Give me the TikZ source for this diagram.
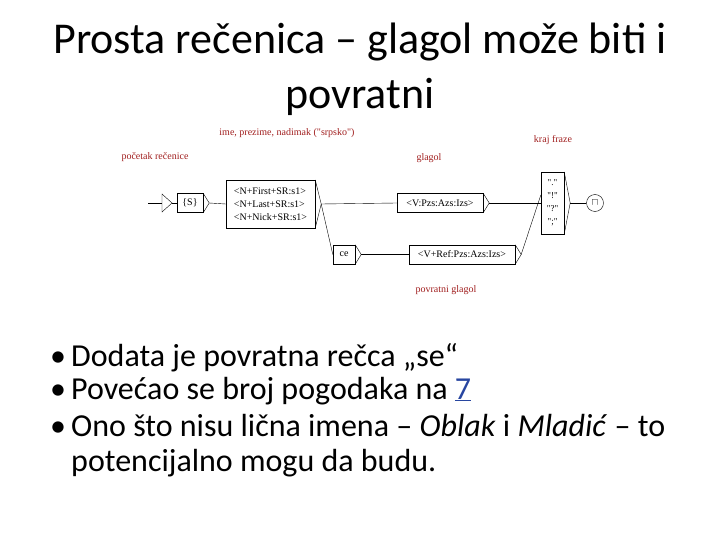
\documentclass[tikz,border=0pt]{standalone}
\usepackage{fontspec}
\setmainfont{Carlito}
\newfontfamily\graphfont{Liberation Serif}
\usetikzlibrary{positioning}
\definecolor{labred}{RGB}{160,30,30}
\definecolor{linkblue}{RGB}{40,70,160}
\tikzset{
    tbox/.style = {draw=black, thin, fill=white, font=\graphfont\fontsize{10}{13}\selectfont, inner sep=2pt, align=left, minimum height=19pt},
    tlabel/.style = {text=labred, font=\graphfont\fontsize{10}{12}\selectfont},
    bline/.style = {font=\fontsize{32}{36}\selectfont, anchor=base west, inner sep=0pt}
}
\newcommand{\boxtip}[1]{\draw[thin] (#1.north east) -- ([xshift=6pt]#1.east) -- (#1.south east);
    \coordinate (#1tip) at ([xshift=6pt]#1.east);}
\begin{document}
\begin{tikzpicture}[x=1pt,y=-1pt]
    \useasboundingbox (0,0) rectangle (720,540);

    % naslov
    \node[font=\fontsize{44}{48}\selectfont] (t1) at (360,42) {Prosta rečenica – glagol može biti i};
    \node[font=\fontsize{44}{48}\selectfont] (t2) at (360,97) {povratni};

    % graf
    \coordinate (start) at (148,203);
    \draw[thin] (162,194) -- (172,203) -- (162,212) -- cycle;
    \coordinate (init) at (162,203);
    \coordinate (initr) at (172,203);
    \node[tbox, minimum width=26pt] (s) at (190,203) {\{S\}};
    \boxtip{s}
    \node[tbox, minimum width=89pt, minimum height=48pt, inner sep=1pt] (names) at (270.5,204) {<N+First+SR:s1>\\<N+Last+SR:s1>\\<N+Nick+SR:s1>};
    \boxtip{names}
    \node[tbox, minimum width=86pt] (verb) at (440,203) {<V:Pzs:Azs:Izs>};
    \boxtip{verb}
    \node[tbox, minimum width=22pt] (ce) at (344,254.5) {ce};
    \boxtip{ce}
    \node[tbox, minimum width=106pt] (ref) at (462,254.5) {<V+Ref:Pzs:Azs:Izs>};
    \boxtip{ref}
    \node[tbox, minimum width=23pt, minimum height=62pt, align=center, inner sep=1pt, font=\graphfont\fontsize{9}{13}\selectfont] (punct) at (552.5,203) {"."\\"!"\\"?"\\";"};
    \boxtip{punct}
    \node[draw, circle, thin, minimum size=17pt, inner sep=0pt] (final) at (595,203) {$\sqcap$};

    \draw[thin] (start) -- (init);
    \draw[thin] (initr) -- (s.west);
    \draw[thin] (stip) -- (names.west);
    \draw[thin] (namestip) -- (verb.west);
    \draw[thin] (namestip) -- (ce.west);
    \draw[thin] (cetip) -- (ref.west);
    \draw[thin] (verbtip) -- (punct.west);
    \draw[thin] (reftip) -- ([yshift=8pt]punct.west);
    \draw[thin] (puncttip) -- (final.west);

    \node[tlabel] (lname) at (287,133) {ime, prezime, nadimak ("srpsko")};
    \node[tlabel] (lend) at (553,140) {kraj fraze};
    \node[tlabel] (lstart) at (155,157) {početak rečenice};
    \node[tlabel] (lverb) at (429,158) {glagol};
    \node[tlabel] (lref) at (446,290) {povratni glagol};

    % tekst
    \foreach \y/\txt in {366/{Dodata je povratna rečca „se“},
                         399/{Povećao se broj pogodaka na \textcolor{linkblue}{\underline{7}}},
                         436/{Ono što nisu lična imena – \textit{Oblak} i \textit{Mladić} – to}}
        {\node[bline] at (50,\y) {•}; \node[bline] at (71,\y) {\txt};}
    \node[bline] (last) at (71,471) {potencijalno mogu da budu.};
\end{tikzpicture}
\end{document}
